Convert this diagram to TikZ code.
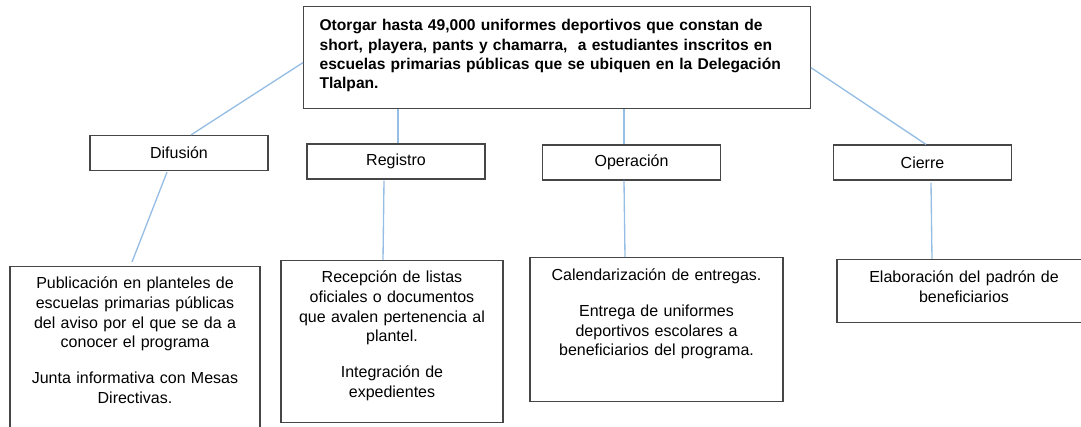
\documentclass[tikz,border=0pt]{standalone}
\usepackage{fontspec}
\setmainfont{Liberation Sans}
\usetikzlibrary{positioning}

\definecolor{boxgray}{RGB}{70,70,70}
\definecolor{linkblue}{RGB}{150,190,228}

\begin{document}
\begin{tikzpicture}[x=0.75pt,y=-0.75pt,
  goal node/.style={draw=boxgray,line width=0.9pt,rectangle,anchor=north west,
    inner xsep=12pt,inner ysep=0pt,text width=356pt,align=left,
    font=\fontsize{11.7}{14.6}\selectfont\bfseries},
  phase node/.style={draw=boxgray,line width=0.9pt,rectangle,
    minimum width=133.5pt,minimum height=26.25pt,
    font=\fontsize{12}{14}\selectfont},
  task node/.style={draw=boxgray,line width=0.9pt,rectangle,anchor=north,
    inner xsep=4pt,inner ysep=0pt,align=center,
    font=\fontsize{12}{14.8}\selectfont},
  link/.style={draw=linkblue,line width=1pt}]

  \useasboundingbox (0,0) rectangle (1081,427);

  \node[goal node,text height=18pt,text depth=58.5pt] (goal) at (303,6)
    {Otorgar hasta 49,000 uniformes deportivos que constan de\\
     short, playera, pants y chamarra,\ \ a estudiantes inscritos en\\
     escuelas primarias públicas que se ubiquen en la Delegación\\
     Tlalpan.};

  \node[phase node] (difu) at (179,153) {Difusión};
  \node[phase node] (regi) at (396,161.5) {Registro};
  \node[phase node] (oper) at (631.5,162.5) {Operación};
  \node[phase node] (cier) at (922.5,162.5) {Cierre};

  \node[task node,text width=179.5pt,text height=16.5pt,text depth=114pt] (publ) at (135,266)
    {Publicación en planteles de\\ escuelas primarias públicas\\
     del aviso por el que se da a\\ conocer el programa\\[12pt]
     Junta informativa con Mesas\\ Directivas.};
  \node[task node,text width=158.5pt,text height=16.5pt,text depth=105pt] (rece) at (392,260)
    {Recepción de listas\\ oficiales o documentos\\
     que avalen pertenencia al\\ plantel.\\[12pt]
     Integración de\\ expedientes};
  \node[task node,text width=181.75pt,text height=17.25pt,text depth=90.75pt] (cale) at (656.5,257)
    {Calendarización de entregas.\\[12pt]
     Entrega de uniformes\\ deportivos escolares a\\ beneficiarios del programa.};
  \node[task node,text width=182.5pt,text height=17.25pt,text depth=30pt] (elab) at (964,259)
    {Elaboración del padrón de\\ beneficiarios};

  % goal to phases
  \draw[link] ([shift={(0,5)}]goal.west) -- ([shift={(12,0)}]difu.north);
  \draw[link] (goal.south -| regi.north) ++(2,0) -- ([shift={(2,0)}]regi.north);
  \draw[link] ([shift={(-7.5,0)}]oper.north |- goal.south) -- ([shift={(-7.5,0)}]oper.north);
  \draw[link] ([shift={(0,10)}]goal.east) -- ([shift={(3.5,0)}]cier.north);

  % phases to tasks
  \draw[link] ([shift={(-12,1)}]difu.south) -- ([shift={(-3,-4)}]publ.north);
  \draw[link] ([shift={(-12,1)}]regi.south) -- ([shift={(-9,0)}]rece.north);
  \draw[link] ([shift={(-7.5,0)}]oper.south) -- ([shift={(-31.5,0)}]cale.north);
  \draw[link] ([shift={(8.5,2)}]cier.south) -- ([shift={(-32,0)}]elab.north);
\end{tikzpicture}
\end{document}
